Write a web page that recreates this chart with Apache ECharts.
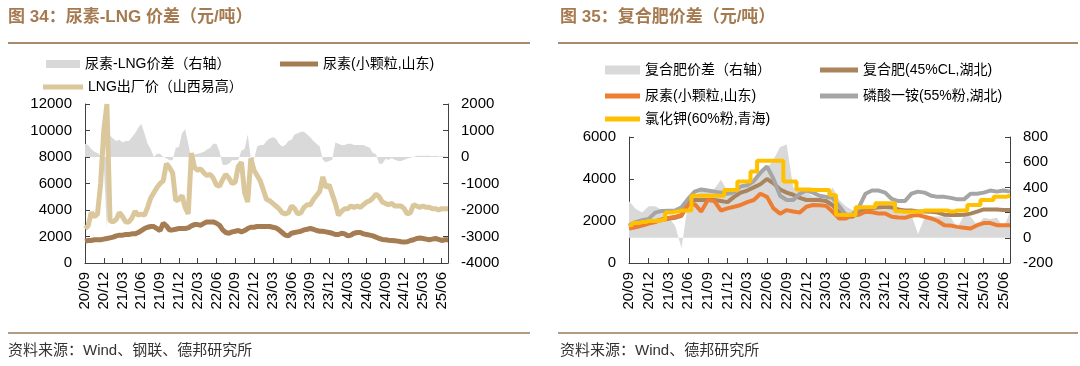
<!DOCTYPE html>
<html>
<head>
<meta charset="utf-8">
<script src="https://cdn.jsdelivr.net/npm/echarts@6/dist/echarts.min.js"></script>
<style>
html,body{margin:0;padding:0;background:#fff;}
#c{width:1080px;height:366px;}
</style>
</head>
<body>
<div id="c"></div>
<script>
// x tick labels (quarterly, starting 2020-09 = month 0)
const quarterLabels = ['20/09','20/12','21/03','21/06','21/09','21/12','22/03','22/06','22/09','22/12',
  '23/03','23/06','23/09','23/12','24/03','24/06','24/09','24/12','25/03','25/06'];

// ---- Left chart (half-month sampling, month 0 = 2020-09) ----
const stepLeft = 0.5;
const lngPrice = [
  2600,2800,3800,3500,3700,6000,10000,12000,3200,3100,
  3300,3800,3500,3100,3100,3400,3900,3600,3700,3600,
  4200,4900,5300,5700,6000,6200,7500,7200,6800,4700,
  4800,5100,4200,3700,8300,7200,7000,7100,6800,6600,
  6700,6400,5900,5800,6300,6700,6400,6000,6100,7300,
  7600,5300,4600,7900,7000,6600,6200,5500,4800,4700,
  4500,4300,4100,3800,3700,3800,4300,4100,3700,3800,
  4200,4400,4400,4800,5100,5400,6500,5700,5900,5200,
  4500,3600,3900,4100,4100,4300,4200,4300,4200,4400,
  4600,4700,4900,5200,5000,4600,4500,4400,4500,4300,
  4300,4300,4100,3700,3800,4400,4300,4200,4300,4200,
  4200,4100,4100,4000,4100,4100,4100];
const ureaLeft = [
  1650,1700,1700,1750,1750,1750,1800,1850,1900,1950,
  2050,2100,2100,2150,2150,2200,2200,2300,2450,2600,
  2700,2750,2750,2600,2450,3000,2800,2500,2500,2550,
  2600,2600,2600,2650,2800,2900,2900,2850,3000,3100,
  3100,3100,3000,2850,2500,2300,2250,2350,2400,2450,
  2350,2450,2600,2700,2700,2750,2750,2750,2750,2750,
  2700,2650,2500,2300,2100,2050,2250,2300,2350,2400,
  2500,2550,2600,2550,2450,2400,2400,2350,2300,2250,
  2150,2150,2250,2200,2050,2100,2250,2300,2300,2200,
  2150,2100,2050,1950,1850,1780,1750,1720,1700,1680,
  1650,1600,1580,1600,1700,1750,1850,1880,1850,1800,
  1750,1800,1850,1780,1700,1750,1750];
const ureaLngSpread = [
  500,450,300,200,150,50,-300,-2700,800,700,
  600,650,550,600,600,750,900,1100,1250,900,
  500,300,0,120,120,0,-50,-120,-120,350,
  380,900,1050,500,-100,100,120,150,200,280,
  350,500,500,200,-300,-300,-250,-120,-120,-100,
  250,300,850,-50,-100,400,450,450,600,700,
  750,700,500,400,450,600,650,850,900,950,
  950,850,750,600,500,400,-100,-200,-150,-100,
  550,500,450,450,500,500,450,450,450,450,
  400,350,150,100,-250,-250,-80,-100,-50,-100,
  -150,-150,-100,-60,-30,0,50,50,50,50,
  50,30,50,20,30,20,20];

// ---- Right chart (monthly sampling, month 0 = 2020-09) ----
const stepRight = 1;
const compoundPrice = [
  1750,1900,1950,1960,2000,2050,2100,2150,2250,2900,
  3000,3000,3000,3000,2950,2900,3150,3350,3450,3600,
  3750,4000,3800,3500,3350,3250,3100,3000,3000,3000,
  2950,2750,2400,2250,2200,2400,2600,2600,2650,2650,
  2650,2550,2500,2500,2450,2450,2440,2400,2300,2280,
  2280,2300,2350,2450,2550,2550,2550,2520,2520];
const ureaRight = [
  1640,1700,1780,1880,1950,2080,2150,2200,2280,2780,
  2800,2450,3000,2950,2500,2600,2680,2760,2900,3000,
  3300,3150,2600,2350,2520,2450,2400,2680,2760,2750,
  2720,2440,2120,2120,2280,2300,2440,2420,2360,2360,
  2200,2170,2150,2250,2280,2200,2120,2000,1800,1780,
  1720,1680,1640,1800,1900,1900,1800,1800,1800];
const mapPrice = [
  1800,1950,2040,2100,2400,2480,2490,2500,2650,3050,
  3400,3500,3450,3400,3350,3300,3350,3650,3700,3900,
  4300,4600,4000,3200,3000,3000,3300,3450,3350,3200,
  3150,3100,2700,2300,2300,2650,3300,3450,3450,3350,
  3050,2950,2950,3300,3400,3350,3200,3150,3150,3100,
  3030,3030,3300,3300,3350,3450,3400,3450,3400];
const kclPrice = [
  1800,1900,1950,2000,2000,2050,2400,2450,2500,2500,
  3200,3200,3200,3200,3200,3480,3480,3880,3880,4360,
  4870,4870,4870,4870,3880,3880,3500,3500,3480,3480,
  3480,3240,2300,2280,2280,2650,2650,2650,2840,2840,
  2840,2460,2440,2440,2440,2500,2500,2500,2500,2450,
  2500,2500,2760,2760,3000,3000,3160,3160,3200];
const compoundSpread = [
  290,230,200,250,250,220,160,100,-80,280,
  330,370,380,390,460,370,330,400,420,440,
  510,550,620,720,740,400,380,360,330,320,
  300,400,300,250,220,230,250,240,230,220,
  230,240,220,180,30,160,170,170,170,160,
  80,180,170,100,160,150,160,80,200];

const toPairs = (vals, step) => vals.map((v, i) => [i * step, v]);

const FONT = '"Liberation Sans", Arial, "Noto Sans CJK SC", sans-serif';
const AX = '#404040';

function xLabel(v) {
  if (v % 3 !== 0) return '';
  return quarterLabels[v / 3] || '';
}

function xAxisCfg(gi) {
  return {
    gridIndex: gi, type: 'value', min: 0, max: 58, interval: 3,
    axisLine: {show: true, lineStyle: {color: AX, width: 1}},
    axisTick: {show: true, inside: true, length: 5, lineStyle: {color: AX}},
    axisLabel: {rotate: 90, fontSize: 15, margin: 9, color: '#000', fontFamily: FONT, formatter: xLabel},
    splitLine: {show: false}
  };
}
function yAxisCfg(gi, pos, min, max, interval) {
  return {
    gridIndex: gi, type: 'value', position: pos, min: min, max: max, interval: interval,
    axisLine: {show: true, onZero: false, lineStyle: {color: AX, width: 1}},
    axisTick: {show: true, inside: true, length: 5, lineStyle: {color: AX}},
    axisLabel: {fontSize: 15, margin: 13, color: '#000', fontFamily: FONT, formatter: (v) => String(v)},
    splitLine: {show: false}
  };
}
function legendCfg(name, color, left, top, w, h) {
  return {
    data: [{name: name, icon: 'rect', itemStyle: {color: color}}],
    left: left, top: top, padding: 0, itemWidth: w, itemHeight: h, itemGap: 5,
    selectedMode: false,
    textStyle: {fontSize: 14, color: '#000', fontFamily: FONT, padding: [0, 0, 0, 0]}
  };
}
function lineSeries(name, data, xi, yi, color, width, extra) {
  return Object.assign({
    name: name, type: 'line', xAxisIndex: xi, yAxisIndex: yi, data: data,
    symbol: 'none', color: color, lineStyle: {color: color, width: width},
    emphasis: {disabled: true}
  }, extra || {});
}

const chart = echarts.init(document.getElementById('c'), null, {renderer: 'canvas'});
const option = {
  animation: false,
  backgroundColor: '#fff',
  grid: [
    {left: 85, right: 632, top: 104, bottom: 103, outerBoundsMode: 'none', containLabel: false},
    {left: 629, right: 70, top: 137, bottom: 103, outerBoundsMode: 'none', containLabel: false}
  ],
  xAxis: [xAxisCfg(0), xAxisCfg(1)],
  yAxis: [
    yAxisCfg(0, 'left', 0, 12000, 2000),
    yAxisCfg(0, 'right', -4000, 2000, 1000),
    yAxisCfg(1, 'left', 0, 6000, 2000),
    yAxisCfg(1, 'right', -200, 800, 200)
  ],
  legend: [
    legendCfg('尿素-LNG价差（右轴）', '#d9d9d9', 46, 57, 34, 8),
    legendCfg('尿素(小颗粒,山东)', '#a67c52', 280, 57, 38, 5),
    legendCfg('LNG出厂价（山西易高）', '#dbc79c', 43, 80, 40, 5),
    legendCfg('复合肥价差（右轴）', '#d9d9d9', 605, 63, 35, 9),
    legendCfg('复合肥(45%CL,湖北)', '#a9845c', 820, 63, 38, 5),
    legendCfg('尿素(小颗粒,山东) ', '#ed7d31', 605, 89, 35, 5),
    legendCfg('磷酸一铵(55%粉,湖北)', '#a5a5a5', 820, 89, 38, 5),
    legendCfg('氯化钾(60%粉,青海)', '#ffc000', 605, 112, 35, 5)
  ],
  series: [
    lineSeries('尿素-LNG价差（右轴）', toPairs(ureaLngSpread, stepLeft), 0, 1, '#d9d9d9', 0,
      {lineStyle: {width: 0, opacity: 0}, areaStyle: {color: '#d9d9d9', opacity: 1}, z: 1}),
    lineSeries('尿素(小颗粒,山东)', toPairs(ureaLeft, stepLeft), 0, 0, '#a67c52', 5, {z: 3}),
    lineSeries('LNG出厂价（山西易高）', toPairs(lngPrice, stepLeft), 0, 0, '#dbc79c', 5, {z: 3}),

    lineSeries('复合肥价差（右轴）', toPairs(compoundSpread, stepRight), 1, 3, '#d9d9d9', 0,
      {lineStyle: {width: 0, opacity: 0}, areaStyle: {color: '#d9d9d9', opacity: 1}, z: 1}),
    lineSeries('复合肥(45%CL,湖北)', toPairs(compoundPrice, stepRight), 1, 2, '#a9845c', 4, {z: 3}),
    lineSeries('尿素(小颗粒,山东) ', toPairs(ureaRight, stepRight), 1, 2, '#ed7d31', 4, {z: 3}),
    lineSeries('磷酸一铵(55%粉,湖北)', toPairs(mapPrice, stepRight), 1, 2, '#a5a5a5', 4, {z: 3}),
    lineSeries('氯化钾(60%粉,青海)', toPairs(kclPrice, stepRight), 1, 2, '#ffc000', 4, {z: 4, step: 'middle'})
  ],
  graphic: [
    {type: 'text', left: 8, top: 9, style: {text: '图 34：尿素-LNG 价差（元/吨）', fontSize: 17, fontWeight: 'bold', fill: '#a57a50', fontFamily: FONT}},
    {type: 'line', shape: {x1: 8, y1: 43, x2: 530, y2: 43}, style: {stroke: '#a88a6e', lineWidth: 2}},
    {type: 'line', shape: {x1: 8, y1: 333, x2: 530, y2: 333}, style: {stroke: '#b39a82', lineWidth: 2}},
    {type: 'text', left: 8, top: 343, style: {text: '资料来源：Wind、钢联、德邦研究所', fontSize: 15, fill: '#333', fontFamily: FONT}},

    {type: 'text', left: 560, top: 9, style: {text: '图 35：复合肥价差（元/吨）', fontSize: 17, fontWeight: 'bold', fill: '#a57a50', fontFamily: FONT}},
    {type: 'line', shape: {x1: 558, y1: 43, x2: 1078, y2: 43}, style: {stroke: '#a88a6e', lineWidth: 2}},
    {type: 'line', shape: {x1: 558, y1: 333, x2: 1078, y2: 333}, style: {stroke: '#b39a82', lineWidth: 2}},
    {type: 'text', left: 560, top: 343, style: {text: '资料来源：Wind、德邦研究所', fontSize: 15, fill: '#333', fontFamily: FONT}}
  ]
};
chart.setOption(option);
</script>
</body>
</html>
